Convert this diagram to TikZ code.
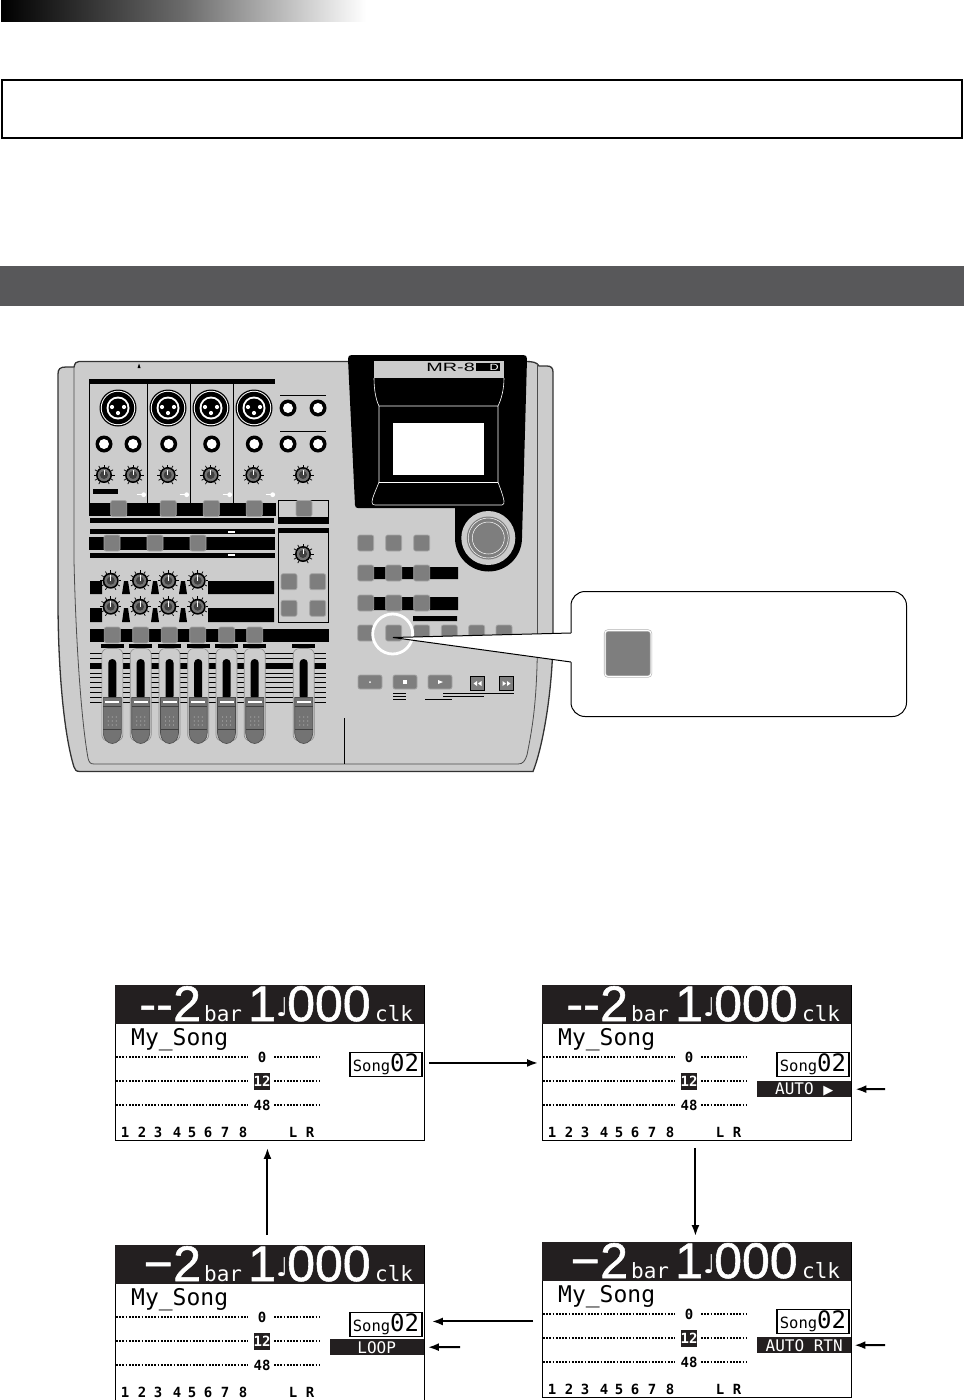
\documentclass[tikz,border=0pt]{standalone}
\usepackage{fontspec}
\usepackage{graphicx}
\usetikzlibrary{positioning,arrows.meta}

\newfontfamily\lcdsans{Liberation Sans}[FakeBold=1.1]
\newfontfamily\lcdplain{Liberation Sans}
\newfontfamily\lcdmono{DejaVu Sans Mono}
\newfontfamily\lcdmonob{DejaVu Sans Mono Bold}
\newfontfamily\lcdsym{DejaVu Sans}

\definecolor{panelgray}{HTML}{CCCCCC}
\definecolor{keygray}{HTML}{7E7E7E}
\definecolor{bandgray}{HTML}{58585A}
\definecolor{lcdblack}{HTML}{231F20}

\tikzset{
  lcdframe/.style={draw, line width=0.9pt, minimum width=309pt, minimum height=155pt, inner sep=0pt},
  lcdbig/.style={anchor=base west, inner sep=0pt, text=white, font=\lcdsans\fontsize{50}{50}\selectfont},
  lcdunit/.style={anchor=base west, inner sep=0pt, text=white, font=\lcdmono\fontsize{21}{21}\selectfont},
  lcdnum/.style={inner sep=0pt, font=\lcdmonob\fontsize{14}{14}\selectfont},
  lcdtag/.style={anchor=north west, fill=lcdblack, text=white, inner sep=0pt, minimum width=94pt,
    minimum height=16pt, font=\lcdmono\fontsize{16}{16}\selectfont},
  lcddots/.style={line width=2pt, dash pattern=on 1.8pt off 1.4pt},
  flowline/.style={-{Latex[length=11pt,width=8pt]}, line width=2pt},
  keycap/.style={fill=keygray, draw=black!35, line width=0.7pt, rounded corners=2pt},
  blackbar/.style={fill=black},
  hoodline/.style={draw=white, line width=0.6pt},
  scaleline/.style={line width=0.9pt},
}

% one square key of the recorder
\newcommand{\devkey}[2]{\draw[keycap] (#1,#2) ++(-8,-8) rectangle ++(16,16);}
% a socket with a white hole
\newcommand{\devjack}[2]{\fill[black] (#1,#2) circle (8.5); \fill[white] (#1,#2) circle (5);}
% xlr socket
\newcommand{\devxlr}[2]{%
  \fill[black] (#1,#2) circle (18.5); \fill[white] (#1,#2) circle (17.2);
  \fill[black] (#1,#2) circle (16.2); \fill[white] (#1,#2) circle (11.5);
  \fill[black] (#1,#2) circle (9.5);
  \fill[white] (#1,#2) ++(-6,-1) circle (2.1) ++(12,0) circle (2.1) ++(-6,6) circle (2.1);}
% small rotary knob
\newcommand{\devknob}[2]{%
  \foreach \tick in {0,30,...,300} {\draw[line width=0.7pt] (#1,#2) ++(\tick+120:8) -- ++(\tick+120:2.5);}
  \fill[black] (#1,#2) circle (8); \fill[black!55] (#1,#2) circle (6.3);
  \fill[black!75] (#1,#2) circle (4);
  \draw[white, line width=1pt] (#1,#2) -- ++(0,-5.5);}
% fader with its slot and cap
\newcommand{\devfader}[1]{%
  \draw[fill=panelgray, draw=black!45, line width=0.6pt, rounded corners=6pt] (#1-10.5,648.5) rectangle (#1+10.5,741);
  \fill[black, rounded corners=3.8pt] (#1-4,659) rectangle (#1+4,700);
  \draw[fill=black!55, draw=black!70, line width=0.6pt] (#1-9,697.5) -- (#1+9,697.5) -- (#1+9,733)
    arc (0:180:9 and 10.5) -- cycle;
  \fill[white] (#1-7,700.5) rectangle (#1+7,703);
  \draw[black!75, line width=0.5pt] (#1-9,706.5) -- (#1+9,706.5) (#1-9,729) -- (#1+9,729);
  \foreach \dotx in {-4,0,4} {\foreach \doty in {717,721,725} {\fill[black!30] (#1+\dotx,\doty) circle (0.6);}}}
% lcd screen: name, left, top, minus sign
\newcommand{\lcdscreen}[4]{%
  \node (#1) [lcdframe, anchor=north west] at (#2,#3) {};
  \begin{scope}[shift={(#2,#3)}]
    \fill[lcdblack] (0,0) rectangle (309,38.5);
    \node (#1minus) [lcdbig, anchor=base east] at (58,36) {#4};
    \node (#1bars) [lcdbig] at (58,36) {2};
    \node (#1bar) [lcdunit] at (89,36) {bar};
    \node (#1one) [lcdbig] at (133,36) {1};
    \node (#1note) [anchor=base west, inner sep=0pt, text=white, font=\lcdsym\fontsize{26}{26}\selectfont] at (161,31) {♩};
    \node (#1clock) [lcdbig] at (172,36) {000};
    \node (#1clk) [lcdunit] at (260,36) {clk};
    \node (#1title) [anchor=base west, inner sep=0pt, font=\lcdmono\fontsize{23}{23}\selectfont] at (16,60) {My\_Song};
    \draw[lcddots] (1,72) -- (133,72) (159,72) -- (205,72);
    \draw[lcddots] (1,96) -- (133,96) (159,96) -- (205,96);
    \draw[lcddots] (1,120) -- (133,120) (159,120) -- (205,120);
    \node (#1zero) [lcdnum] at (147,72) {0};
    \node (#1twelve) [lcdnum, fill=lcdblack, text=white, minimum width=16pt, minimum height=17pt] at (147,96) {12};
    \node (#1forty) [lcdnum] at (147,120) {48};
    \foreach \trk/\trkx in {1/10,2/27,3/43,4/62,5/77,6/93,7/110,8/128,L/178,R/195} {
      \node (#1trk\trk) [lcdnum] at (\trkx,147) {\trk};
    }
    \node (#1song) [draw, line width=1.9pt, minimum width=72pt, minimum height=24pt, inner sep=0pt] at (271,79.5)
      {\lcdmono\fontsize{15.5}{16}\selectfont Song\fontsize{24}{24}\selectfont 02};
  \end{scope}
}

\begin{document}
\begin{tikzpicture}[x=1pt, y=-1pt]
  \useasboundingbox (0,0) rectangle (964,1400);

  % page furniture
  \shade[left color=black, right color=white, middle color=black!58] (1,0) rectangle (366,21);
  \draw[line width=2pt] (1.5,79.5) rectangle (962,138);
  \fill[bandgray] (0,266) rectangle (964,305.5);

  % recorder body
  \draw[fill=panelgray, draw=black!80, line width=1.3pt]
    (58,374) .. controls (58,369) and (60,367) .. (66,367) -- (74,367)
    .. controls (75,363) and (76,361.5) .. (79,361.5) -- (525,361.5)
    .. controls (532,361.5) and (537,362) .. (539,366) -- (547,366)
    .. controls (551,366) and (553,368) .. (553,372) -- (553,640)
    .. controls (552,700) and (541,752) .. (533,771.5) -- (80,771.5)
    .. controls (76,771.5) and (75,770) .. (74,767)
    .. controls (64,735) and (58,670) .. (58,600) -- cycle;
  \draw[draw=black!70, line width=0.8pt]
    (74,367) -- (74,560) .. controls (76,650) and (82,725) .. (88,758)
    .. controls (89,762) and (90,764) .. (94,764) -- (518,764)
    .. controls (523,764) and (525,761) .. (527,755)
    .. controls (533,725) and (537,700) .. (537.5,640) -- (537.5,364);
  \draw[line width=0.8pt] (344,718) -- (344,764);
  \fill[black] (139,363.5) -- (137.5,368) -- (140.5,368) -- cycle;

  % input strip
  \fill[blackbar] (89,379) rectangle (275,384);
  \foreach \stripx in {89.5,147.5,190.5,233.5} {\draw[line width=0.8pt] (\stripx,384) -- (\stripx,503);}
  \foreach \socketx in {118,168,211,254} {\devxlr{\socketx}{408}}
  \foreach \socketx in {288,318} {\devjack{\socketx}{408}}
  \foreach \socketx in {104,133,168.7,211.7,254.3,288,318} {\devjack{\socketx}{444}}
  \draw[line width=0.8pt] (280,395) -- (326,395) (280,431.5) -- (326,431.5);
  \foreach \knobx in {104,133,167.7,210.7,253.3,303} {\devknob{\knobx}{475}}
  \fill[blackbar] (93,489) rectangle (118,494);
  \foreach \ledx in {143.7,186.7,229.7,272.7} {
    \draw[white, line width=0.5pt] (\ledx-7,494.7) -- (\ledx,494.7);
    \fill[white] (\ledx,494.7) circle (2.4);
  }
  \fill[blackbar] (89,503) rectangle (276,516);
  \foreach \keyx in {118.7,168.3,211.3,254.3} {\devkey{\keyx}{508.5}}
  \fill[blackbar] (90,518) rectangle (274,523);
  \draw[fill=panelgray, line width=0.8pt] (278,500) rectangle (328,523);
  \fill[blackbar] (278,517) rectangle (328,523);
  \devkey{304}{508.5}

  % send section
  \fill[blackbar] (90,529) rectangle (275,534);
  \fill[white] (228,530.6) rectangle (235,532.6);
  \fill[blackbar] (89,537) rectangle (275,550);
  \foreach \keyx in {112,155,198} {\devkey{\keyx}{543}}
  \fill[blackbar] (90,552.5) rectangle (275,558);
  \fill[white] (228,554) rectangle (235,556);
  \draw[fill=panelgray, line width=0.8pt] (278,528) rectangle (328,622);
  \fill[blackbar] (278,528) rectangle (328,533);
  \devknob{303}{554}
  \foreach \keyx in {289,317.7} {\foreach \keyy in {581.7,608.3} {\devkey{\keyx}{\keyy}}}

  % aux knobs
  \fill[blackbar] (90,581) rectangle (102,594) (208,581) rectangle (274,594);
  \fill[blackbar] (90,608) rectangle (102,622) (208,608) rectangle (274,622);
  \foreach \wedgex in {126,155,183} {
    \fill[black] (\wedgex-2,581) -- (\wedgex+2,581) -- (\wedgex+4,594) -- (\wedgex-4,594) -- cycle;
    \fill[black] (\wedgex-2,608) -- (\wedgex+2,608) -- (\wedgex+4,622) -- (\wedgex-4,622) -- cycle;
  }
  \foreach \knobx in {110.7,140,168.3,197.7} {\devknob{\knobx}{580.7} \devknob{\knobx}{606.7}}

  % fader section
  \fill[blackbar] (90,629) rectangle (329,642);
  \foreach \keyx in {112.3,140.7,169.3,197.7,226.7,254.7} {\devkey{\keyx}{635}}
  \foreach \rulery in {653,658,673,677,682,687,692,697,702} {\draw[scaleline] (90,\rulery) -- (326,\rulery);}
  \fill[blackbar] (90,663) rectangle (326,669);
  \foreach \faderx in {112.3,140.7,169.5,198.2,226.5,254.7,303.7} {
    \fill[blackbar] (\faderx-11.5,644) rectangle (\faderx+11.5,648);
    \devfader{\faderx}
  }

  % display hood
  \fill[black] (352,355) .. controls (349,355) and (348,356) .. (348,359)
    -- (355,505) .. controls (355,507) and (356,508) .. (358,508) -- (455,508) -- (455,538)
    arc (180:0:33.5) -- (527,359) .. controls (527,356) and (526,355) .. (523,355) -- cycle;
  \fill[panelgray] (374,361) rectangle (504,378);
  \node (modelname) [anchor=base east, inner sep=0pt, font=\lcdplain\fontsize{12}{12}\selectfont] at (475,371.5)
    {\scalebox{1.65}[1]{MR-8}};
  \fill[black] (476,363) rectangle (500,371);
  \node (modelmark) [anchor=base east, inner sep=0pt, text=white, font=\lcdplain\fontsize{9}{9}\selectfont] at (499,370.5)
    {\scalebox{1.4}[1]{D}};
  \draw[hoodline] (379,406) -- (498,406)
    (374,378) .. controls (374,390) and (376,400) .. (379,406)
    (504,378) .. controls (504,390) and (501,400) .. (498,406)
    (379,406) -- (379,482) (498,406) -- (498,482);
  \draw[hoodline, line width=0.9pt] (379,482) -- (498,482);
  \draw[hoodline] (379,482) .. controls (376,490) and (372,498) .. (372,502)
    .. controls (372,504) and (373,505) .. (375,505) -- (502,505)
    .. controls (504,505) and (504,503) .. (504,501)
    .. controls (503,495) and (500,488) .. (498,482);
  \fill[white] (393,423) rectangle (484,475);
  \fill[panelgray] (488.3,538) circle (27);
  \fill[keygray] (488.3,538) circle (21.5);
  \draw[white, line width=0.5pt] (488.3,538) circle (20) (488.3,538) circle (16);

  % locate and transport keys
  \foreach \keyx in {365.7,393.7,421.7} {\devkey{\keyx}{543}}
  \fill[blackbar] (373,567) rectangle (458,579) (373,597) rectangle (458,610) (413,616) rectangle (457,621);
  \foreach \keyx in {365.7,393.7,421.7} {\devkey{\keyx}{573} \devkey{\keyx}{603}}
  \foreach \keyx in {365.7,393.7,421.7,449.3,476.7,504} {\devkey{\keyx}{633}}
  \draw[keycap] (358,675) rectangle (382,689) (393,675) rectangle (417,689) (428,675) rectangle (452,689);
  \fill[white] (370,682) circle (1);
  \draw[white, fill=white, line width=0.8pt] (403.5,680) rectangle (406.5,683.5);
  \fill[white] (438,680) -- (443,682) -- (438,684) -- cycle;
  \draw[fill=keygray, line width=1.6pt] (470.5,676.5) rectangle (484.5,690.5) (499.5,676.5) rectangle (513.5,690.5);
  \fill[white] (477,681) -- (473.5,683.5) -- (477,686) -- cycle (481.5,681) -- (478,683.5) -- (481.5,686) -- cycle;
  \fill[white] (502.5,681) -- (506,683.5) -- (502.5,686) -- cycle (507,681) -- (510.5,683.5) -- (507,686) -- cycle;
  \draw[line width=0.7pt] (393,693.5) -- (406,693.5) (393,696) -- (406,696) (393,699) -- (406,699)
    (425,699.5) -- (452,699.5) (443,696) -- (484,696) (443,693.5) -- (514,693.5);

  % callout
  \draw[white, line width=2.8pt] (392.7,634) circle (20);
  \node (helpbox) [draw, fill=white, line width=1pt, rounded corners=14pt, minimum width=335.5pt,
    minimum height=125pt, anchor=north west, inner sep=0pt] at (570.5,591) {};
  \node (helpkey) [fill=keygray, draw=black!30, line width=0.6pt, double=white, double distance=1pt,
    rounded corners=3pt, minimum size=46pt, inner sep=0pt] at (628,653.5) {};
  \coordinate (keytip) at (393,637.5);
  \coordinate (wedgetop) at (571,633);
  \coordinate (wedgelow) at (571,662);
  \fill[white] (keytip) -- (wedgetop) -- ([xshift=1.5pt]wedgetop) -- ([xshift=1.5pt]wedgelow) -- (wedgelow) -- cycle;
  \draw[line width=1pt] (keytip) -- (wedgetop) (keytip) -- (wedgelow);

  % lcd screens
  \lcdscreen{songlcd}{115}{985}{-{}-}
  \lcdscreen{autolcd}{542}{985}{-{}-}
  \lcdscreen{rtnlcd}{542}{1242}{−}
  \lcdscreen{looplcd}{115}{1245}{−}

  \node (autotag) [lcdtag] at (757,1081) {AUTO \lcdsym\fontsize{13}{13}\selectfont ▶};
  \node (rtntag) [lcdtag] at (757,1337) {AUTO RTN};
  \node (looptag) [lcdtag] at (329.5,1339) {LOOP};

  \coordinate (autotail) at (885,1089);
  \coordinate (rtntail) at (885,1345);
  \coordinate (looptail) at (460,1347);
  \draw[flowline] (autotail) -- ([xshift=4pt]autotag.east);
  \draw[flowline] (rtntail) -- ([xshift=3pt]rtntag.east);
  \draw[flowline] (looptail) -- ([xshift=4pt]looptag.east);

  \draw[flowline] ([xshift=4pt]songlcd.east) -- ([xshift=-4pt]autolcd.west);
  \draw[flowline] ([xshift=-1.5pt,yshift=-7pt]autolcd.south) -- ([xshift=-1.5pt,yshift=6pt]rtnlcd.north);
  \draw[flowline] ([xshift=-9pt,yshift=-1.5pt]rtnlcd.west) -- ([xshift=7pt,yshift=1.5pt]looplcd.east);
  \draw[flowline] ([xshift=-2.5pt,yshift=10pt]looplcd.north) -- ([xshift=-2.5pt,yshift=-7pt]songlcd.south);
\end{tikzpicture}
\end{document}
